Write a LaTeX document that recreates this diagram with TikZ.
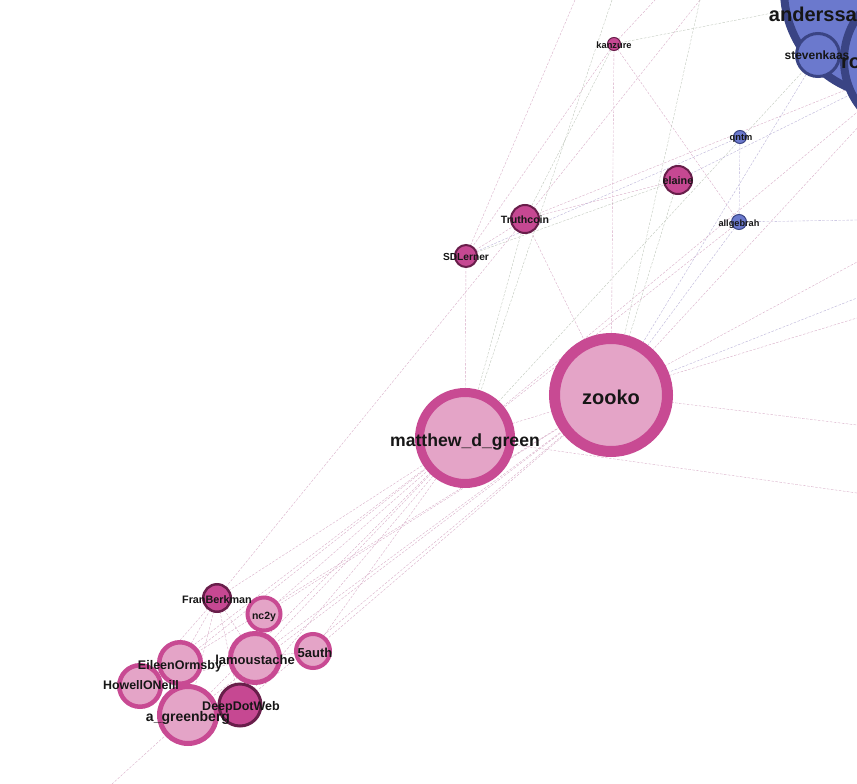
\documentclass[tikz,border=0pt]{standalone}
\usepackage{fontspec}
\setmainfont{Liberation Sans}
\definecolor{pinkfill}{RGB}{228,164,199}
\definecolor{pinkring}{RGB}{200,74,147}
\definecolor{magfill}{RGB}{198,72,146}
\definecolor{magring}{RGB}{104,30,74}
\definecolor{bluefill}{RGB}{107,121,205}
\definecolor{bluering}{RGB}{58,68,132}
\definecolor{edgepink}{RGB}{214,168,196}
\definecolor{edgegrey}{RGB}{188,196,184}
\definecolor{edgeblue}{RGB}{182,174,214}
\definecolor{labelgray}{RGB}{22,22,22}
\pgfdeclarelayer{edges}
\pgfsetlayers{edges,main}

\begin{document}
\begin{tikzpicture}[
x=1pt, y=-1pt,
vert/.style={circle, inner sep=0pt, outer sep=0pt},
pinknode/.style={vert, fill=pinkfill, draw=pinkring},
darknode/.style={vert, fill=magfill, draw=magring},
bluenode/.style={vert, fill=bluefill, draw=bluering},
lbl/.style={font=\bfseries\fontsize{#1}{#1}\selectfont, text=labelgray, inner sep=0pt},
edge/.style={draw=edgepink, line width=0.35pt, dash pattern=on 2.5pt off 1.5pt},
edgeg/.style={edge, draw=edgegrey},
edgeb/.style={edge, draw=edgeblue} ]

\useasboundingbox (0,0) rectangle (857,784);

\node[bluenode, minimum size=212pt, line width=8pt](anderssa) at (890,-10) {};

\node[bluenode, minimum size=152pt, line width=8pt](ro) at (920,60) {};

\node[bluenode, minimum size=43pt, line width=3pt](stevenkaas) at (818,55) {};

\node[darknode, minimum size=13pt, line width=1pt](kanzure) at (614,44) {};

\node[bluenode, minimum size=13pt, line width=1pt](qntm) at (740,137) {};

\node[bluenode, minimum size=15pt, line width=1pt](allgebrah) at (739,222) {};

\node[darknode, minimum size=28pt, line width=2pt](elaine) at (678,180) {};

\node[darknode, minimum size=28pt, line width=2pt](truthcoin) at (525,219) {};

\node[darknode, minimum size=22pt, line width=2pt](sdlerner) at (466,256) {};

\node[pinknode, minimum size=91pt, line width=9pt](mgreen) at (465,438) {};

\node[pinknode, minimum size=113pt, line width=11pt](zooko) at (611,395) {};

\node[darknode, minimum size=27.5pt, line width=2.5pt](fran) at (217,598) {};

\node[pinknode, minimum size=33pt, line width=4pt](nctwoy) at (264,614) {};

\node[pinknode, minimum size=34pt, line width=4pt](fiveauth) at (313,651) {};

\node[pinknode, minimum size=41.5pt, line width=4.5pt](howell) at (140,686) {};

\node[pinknode, minimum size=41.5pt, line width=4.5pt](eileen) at (180,663) {};

\node[pinknode, minimum size=49pt, line width=5pt](lamous) at (255,658) {};

\node[pinknode, minimum size=57pt, line width=5pt](agreen) at (188,715) {};

\node[darknode, minimum size=42pt, line width=3pt](deepdot) at (240,705) {};

\coordinate (n1) at (575,0);
\coordinate (n2) at (612,0);
\coordinate (n3) at (655,0);
\coordinate (n4) at (700,0);
\coordinate (e1) at (857,298);
\coordinate (e2) at (857,318);
\coordinate (e3) at (857,425);
\coordinate (e4) at (857,493);
\coordinate (e5) at (857,220);
\coordinate (e6) at (857,262);
\coordinate (sw) at (112,784);

\begin{pgfonlayer}{edges}
\fill[white] (0,0) rectangle (857,784);
\draw[edge] (sdlerner) -- (mgreen);
\draw[edge] (kanzure) -- (zooko);
\draw[edgeb] (qntm) -- (allgebrah);
\draw[edge] (kanzure) -- (allgebrah);
\draw[edgeg] (elaine) -- (zooko);
\draw[edge] (truthcoin) -- (zooko);
\draw[edgeg] (truthcoin) -- (mgreen);
\draw[edge] (truthcoin) -- (elaine);
\draw[edgeg] (sdlerner) -- (elaine);
\draw[edge] (sdlerner) -- (truthcoin);
\draw[edge] (truthcoin) -- (ro);
\draw[edgeb] (sdlerner) -- (qntm);
\draw[edgeb] (allgebrah) -- (zooko);
\draw[edge] (allgebrah) -- (mgreen);
\draw[edgeb] (allgebrah) -- (e5);
\draw[edge] (zooko) -- (e3);
\draw[edge] (mgreen) -- (e4);
\draw[edgeb] (zooko) -- (e1);
\draw[edge] (mgreen) -- (e2);
\draw[edge] (zooko) -- (e6);
\draw[edgeb] (zooko) -- (stevenkaas);
\draw[edge] (zooko) -- (ro);
\draw[edgeg] (mgreen) -- (stevenkaas);
\draw[edge] (mgreen) -- (ro);
\draw[edgeb] (elaine) -- (ro);
\draw[edge] (kanzure) -- (n3);
\draw[edgeg] (kanzure) -- (anderssa);
\draw[edge] (kanzure) -- (sdlerner);
\draw[edgeg] (kanzure) -- (truthcoin);
\draw[edge] (n1) -- (sdlerner);
\draw[edgeg] (n2) -- (mgreen);
\draw[edge] (n4) -- (truthcoin);
\draw[edgeg] (n4) -- (zooko);
\draw[edge] (fran) -- (truthcoin);
\draw[edge] (fran) -- (mgreen);
\draw[edge] (nctwoy) -- (mgreen);
\draw[edge] (nctwoy) -- (zooko);
\draw[edge] (lamous) -- (mgreen);
\draw[edge] (lamous) -- (zooko);
\draw[edge] (fiveauth) -- (zooko);
\draw[edge] (fiveauth) -- (mgreen);
\draw[edge] (eileen) -- (mgreen);
\draw[edge] (eileen) -- (zooko);
\draw[edge] (howell) -- (mgreen);
\draw[edge] (agreen) -- (mgreen);
\draw[edge] (agreen) -- (zooko);
\draw[edge] (deepdot) -- (mgreen);
\draw[edge] (deepdot) -- (zooko);
\draw[edge] (fran) -- (eileen);
\draw[edge] (fran) -- (lamous);
\draw[edge] (fran) -- (deepdot);
\draw[edge] (fran) -- (howell);
\draw[edge] (fran) -- (agreen);
\draw[edge] (eileen) -- (lamous);
\draw[edge] (lamous) -- (fiveauth);
\draw[edge] (nctwoy) -- (lamous);
\draw[edge] (howell) -- (lamous);
\draw[edge] (agreen) -- (sw);
\end{pgfonlayer}

\node[lbl=20, anchor=east](anderssaL) at (857,14) {anderssa};

\node[lbl=20, anchor=west](roL) at (841,63) {ro};

\node[lbl=12](stevenkaasL) at (817,55) {stevenkaas};

\node[lbl=9.3](kanzureL) at (614,45) {kanzure};

\node[lbl=9.3](qntmL) at (741,138) {qntm};

\node[lbl=9.2](allgebrahL) at (739,224) {allgebrah};

\node[lbl=10.8](elaineL) at (678,181) {elaine};

\node[lbl=10.6](truthcoinL) at (525,220) {Truthcoin};

\node[lbl=10.2](sdlernerL) at (466,257) {SDLerner};

\node[lbl=20](zookoL) at (611,397) {zooko};

\node[lbl=17.6](mgreenL) at (465,442) {matthew\_d\_green};

\node[lbl=10.8](franL) at (217,600) {FranBerkman};

\node[lbl=10.5](nctwoyL) at (264,617) {nc2y};

\node[lbl=13](fiveauthL) at (315,653) {5auth};

\node[lbl=13](lamousL) at (255,660) {lamoustache};

\node[lbl=12.5](eileenL) at (180,666) {EileenOrmsby};

\node[lbl=12.4](howellL) at (141,685) {HowellONeill};

\node[lbl=14](agreenL) at (188,718) {a\_greenberg};

\node[lbl=12.5](deepdotL) at (241,707) {DeepDotWeb};
\end{tikzpicture}
\end{document}
